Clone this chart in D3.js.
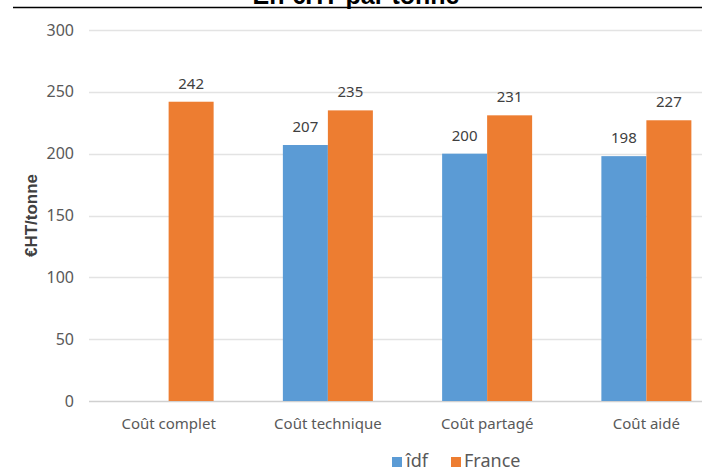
<!DOCTYPE html>
<html>
<head>
<meta charset="utf-8">
<script src="https://cdn.jsdelivr.net/npm/d3@7"></script>
<style>
  body { margin: 0; background: #fff; }
  svg { display: block; }
  .tick-label { font-family: "Noto Sans", sans-serif; fill: #595959; }
</style>
</head>
<body>
<svg id="chart" width="709" height="472"></svg>
<script>
// Chart data
const categories = ['Coût complet', 'Coût technique', 'Coût partagé', 'Coût aidé'];
const seriesNames = ['îdf', 'France'];
const idfValues = [null, 207, 200, 198];
const franceValues = [242, 235, 231, 227];
const yTicks = [0, 50, 100, 150, 200, 250, 300];

const colors = { 'îdf': '#5B9BD5', 'France': '#ED7D31' };
const seriesValues = { 'îdf': idfValues, 'France': franceValues };

const plot = { left: 89, right: 726, top: 30, bottom: 401, gridEnd: 702 };

const svg = d3.select('#chart');

// Title (mostly cut off at the top) and frame line
svg.append('text')
    .attr('x', 356)
    .attr('y', 4)
    .attr('text-anchor', 'middle')
    .style('font-family', '"Liberation Sans", Arial, sans-serif')
    .style('font-weight', 'bold')
    .style('font-size', '25px')
    .style('fill', '#000')
    .text('En €HT par tonne');

svg.append('line')
    .attr('x1', 13).attr('x2', 702)
    .attr('y1', 7.5).attr('y2', 7.5)
    .attr('stroke', '#000')
    .attr('stroke-width', 1.5);

// Scales
const x = d3.scaleBand()
    .domain(categories)
    .range([plot.left, plot.right])
    .paddingInner(0)
    .paddingOuter(0);

const groupWidth = 90;
const xSub = d3.scaleBand()
    .domain(seriesNames)
    .range([0, groupWidth]);

const y = d3.scaleLinear()
    .domain([0, 300])
    .range([plot.bottom, plot.top]);

// Gridlines
svg.append('g')
    .selectAll('line')
    .data(yTicks)
    .enter()
    .append('line')
    .attr('x1', plot.left)
    .attr('x2', plot.gridEnd)
    .attr('y1', d => Math.round(y(d)) + 0.5)
    .attr('y2', d => Math.round(y(d)) + 0.5)
    .attr('stroke', d => d === 0 ? '#D0D0D0' : '#E3E3E3')
    .attr('stroke-width', 1.5);

// Y tick labels
svg.append('g')
    .selectAll('text')
    .data(yTicks)
    .enter()
    .append('text')
    .attr('class', 'tick-label')
    .attr('x', 74)
    .attr('y', d => y(d))
    .attr('dy', '0.35em')
    .attr('text-anchor', 'end')
    .style('font-size', '16px')
    .text(d => d);

// Y axis title
svg.append('text')
    .attr('transform', `translate(37, ${(plot.top + plot.bottom) / 2}) rotate(-90)`)
    .attr('text-anchor', 'middle')
    .style('font-family', '"Liberation Sans", Arial, sans-serif')
    .style('font-weight', 'bold')
    .style('font-size', '17px')
    .style('fill', '#404040')
    .text('€HT/tonne');

// Bars
const barData = [];
categories.forEach((c, i) => {
    seriesNames.forEach(s => {
        const v = seriesValues[s][i];
        if (v != null) barData.push({ category: c, series: s, value: v });
    });
});

const offset = (x.bandwidth() - groupWidth) / 2;

svg.append('g')
    .selectAll('rect')
    .data(barData)
    .enter()
    .append('rect')
    .attr('x', d => x(d.category) + offset + xSub(d.series))
    .attr('y', d => y(d.value))
    .attr('width', xSub.bandwidth())
    .attr('height', d => y(0) - y(d.value))
    .attr('fill', d => colors[d.series]);

// Data labels
svg.append('g')
    .selectAll('text')
    .data(barData)
    .enter()
    .append('text')
    .attr('x', d => x(d.category) + offset + xSub(d.series) + xSub.bandwidth() / 2)
    .attr('y', d => y(d.value) - 13)
    .attr('text-anchor', 'middle')
    .style('font-family', '"Noto Sans", sans-serif')
    .style('font-size', '15px')
    .style('fill', '#404040')
    .text(d => d.value);

// Category labels
svg.append('g')
    .selectAll('text')
    .data(categories)
    .enter()
    .append('text')
    .attr('class', 'tick-label')
    .attr('x', d => x(d) + x.bandwidth() / 2)
    .attr('y', 429)
    .attr('text-anchor', 'middle')
    .style('font-size', '15px')
    .text(d => d);

// Legend
const legendItems = [
    { name: 'îdf', sx: 392, tx: 406 },
    { name: 'France', sx: 451, tx: 464 }
];
const legend = svg.append('g');
legend.selectAll('rect')
    .data(legendItems)
    .enter()
    .append('rect')
    .attr('x', d => d.sx)
    .attr('y', 457)
    .attr('width', 10)
    .attr('height', 10)
    .attr('fill', d => colors[d.name]);
legend.selectAll('text')
    .data(legendItems)
    .enter()
    .append('text')
    .attr('class', 'tick-label')
    .attr('x', d => d.tx)
    .attr('y', 467)
    .style('font-size', '18px')
    .text(d => d.name);
</script>
</body>
</html>
